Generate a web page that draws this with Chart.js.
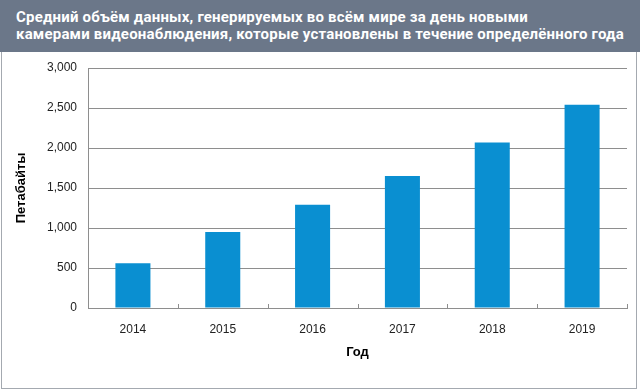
<!DOCTYPE html>
<html>
<head>
<meta charset="utf-8">
<script src="https://cdn.jsdelivr.net/npm/chart.js@4"></script>
<style>
  html, body { margin: 0; padding: 0; background: #fff; }
  #page { position: relative; width: 640px; height: 391px; overflow: hidden; background: #fff; }
  #header {
    position: absolute; left: 0; top: 0; width: 640px; height: 52px;
    background: #6b7789; color: #fff;
    font-family: Roboto, "Noto Sans", sans-serif; font-weight: bold; font-size: 15px;
    letter-spacing: 0.2px; line-height: 17px; box-sizing: border-box; padding: 9px 0 0 16px; white-space: nowrap;
  }
  #frame {
    position: absolute; left: 1px; top: 52px; width: 634px; height: 336px;
    border: 1px solid #a4a9b0; border-top: none;
  }
  #wrap { position: absolute; left: 0; top: 0; width: 640px; height: 391px; }
</style>
</head>
<body>
<div id="page">
  <div id="header">Средний объём данных, генерируемых во всём мире за день новыми<br>камерами видеонаблюдения, которые установлены в течение определённого года</div>
  <div id="frame"></div>
  <div id="wrap"><canvas id="chart" width="640" height="391"></canvas></div>
</div>
<script>
const years = ['2014', '2015', '2016', '2017', '2018', '2019'];
const petabytes = [560, 950, 1290, 1650, 2070, 2540];
const yTicks = [0, 500, 1000, 1500, 2000, 2500, 3000];

const gridGray = '#8e8e8e';

// small upward tick marks between categories on the x axis
const catTicks = {
    id: 'catTicks',
    afterDatasetsDraw(chart) {
        const x = chart.scales.x;
        const ctx = chart.ctx;
        const bottom = chart.chartArea.bottom;
        ctx.save();
        ctx.strokeStyle = gridGray;
        ctx.lineWidth = 1;
        for (let i = 0; i < years.length; i++) {
            const half = (x.getPixelForValue(1) - x.getPixelForValue(0)) / 2;
            const px = Math.round(x.getPixelForValue(i) + half) + 0.5;
            ctx.beginPath();
            ctx.moveTo(px, bottom);
            ctx.lineTo(px, bottom - 4);
            ctx.stroke();
        }
        ctx.restore();
    }
};

new Chart(document.getElementById('chart').getContext('2d'), {
    type: 'bar',
    data: {
        labels: years,
        datasets: [{
            data: petabytes,
            backgroundColor: '#0a8fd1',
            borderWidth: 0,
            categoryPercentage: 1,
            barPercentage: 0.39
        }]
    },
    plugins: [catTicks],
    options: {
        responsive: false,
        animation: false,
        events: [],
        layout: { padding: { top: 68, right: 13, bottom: 0, left: 0 } },
        plugins: {
            legend: { display: false },
            tooltip: { enabled: false }
        },
        scales: {
            x: {
                grid: { display: false },
                border: { display: true, color: gridGray, width: 1 },
                ticks: {
                    color: '#222',
                    font: { family: 'Liberation Sans, Arial, sans-serif', size: 12 },
                    padding: 6,
                    maxRotation: 0
                },
                title: {
                    display: true,
                    text: 'Год',
                    color: '#000',
                    font: { family: 'Liberation Sans, Arial, sans-serif', size: 13, weight: 'bold' },
                    padding: { top: 0, bottom: 31 }
                },
                afterFit(scale) { scale.height = 83; }
            },
            y: {
                min: 0,
                max: 3000,
                afterBuildTicks(scale) { scale.ticks = yTicks.map(v => ({ value: v })); },
                grid: { color: gridGray, lineWidth: 1, drawTicks: false },
                border: { display: true, color: gridGray, width: 1 },
                ticks: {
                    color: '#222',
                    font: { family: 'Liberation Sans, Arial, sans-serif', size: 12 },
                    padding: 11,
                    callback: v => v.toLocaleString('en-US')
                },
                title: {
                    display: true,
                    text: 'Петабайты',
                    color: '#000',
                    font: { family: 'Liberation Sans, Arial, sans-serif', size: 13, weight: 'bold' },
                    padding: { top: 14, bottom: 0 }
                },
                afterFit(scale) { scale.width = 88; }
            }
        }
    }
});
</script>
</body>
</html>
